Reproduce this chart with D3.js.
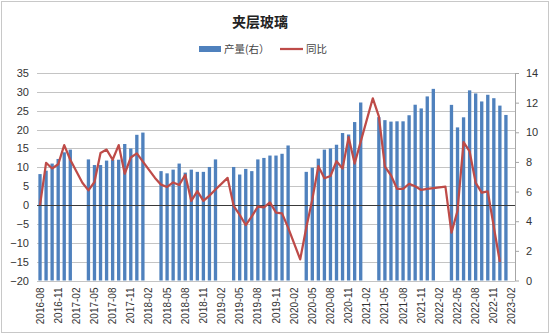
<!DOCTYPE html>
<html><head><meta charset="utf-8">
<script src="https://cdn.jsdelivr.net/npm/d3@7"></script>
<style>
html,body{margin:0;padding:0;background:#fff;}
svg{display:block;}
</style>
</head><body>
<svg id="chart" width="550" height="335"></svg>
<script>
const title = "夹层玻璃";
const seriesNames = ["产量(右）", "同比"];
const months = [
"2016-08","2016-09","2016-10","2016-11","2016-12",
"2017-01","2017-02","2017-03","2017-04","2017-05","2017-06","2017-07","2017-08","2017-09","2017-10","2017-11","2017-12",
"2018-01","2018-02","2018-03","2018-04","2018-05","2018-06","2018-07","2018-08","2018-09","2018-10","2018-11","2018-12",
"2019-01","2019-02","2019-03","2019-04","2019-05","2019-06","2019-07","2019-08","2019-09","2019-10","2019-11","2019-12",
"2020-01","2020-02","2020-03","2020-04","2020-05","2020-06","2020-07","2020-08","2020-09","2020-10","2020-11","2020-12",
"2021-01","2021-02","2021-03","2021-04","2021-05","2021-06","2021-07","2021-08","2021-09","2021-10","2021-11","2021-12",
"2022-01","2022-02","2022-03","2022-04","2022-05","2022-06","2022-07","2022-08","2022-09","2022-10","2022-11","2022-12",
"2023-01","2023-02"];
// 产量 (right axis)
const production = [
7.18,7.41,7.89,8.20,8.65,8.83,
null,null,
8.17,7.79,7.79,8.09,8.15,8.15,9.21,8.91,9.83,9.98,
null,null,
7.38,7.23,7.48,7.89,7.28,7.48,7.33,7.33,7.66,8.17,
null,null,
7.66,7.15,7.53,7.38,8.17,8.27,8.43,8.43,8.55,9.11,
null,null,
7.33,7.61,8.22,8.83,8.91,9.16,9.95,9.85,10.69,12.01,
null,null,
11.02,10.82,10.72,10.74,10.74,11.15,11.86,11.61,12.42,12.93,
null,null,
11.85,10.33,11.01,12.83,12.62,12.08,12.53,12.30,11.80,11.17,
null];
// 同比 (left axis, %)
const yoy = [
0,11.2,9.7,10.8,15.9,12.0,
null,5.9,
3.9,6.1,13.8,14.7,12.0,15.9,8.3,12.6,13.7,11.5,
null,7.2,
5.4,4.8,6.0,5.3,8.0,1.1,3.7,1.1,2.5,4.1,
null,7.2,
-0.2,-2.6,-5.3,-3.0,-0.4,-0.6,0.7,-2.0,-2.2,-6.0,
null,-14.4,
-6.0,1.5,10.3,7.1,7.7,11.6,9.7,18.0,11.0,16.8,
null,28.3,
23.5,10.2,7.9,4.3,4.3,5.6,5.0,4.0,4.3,4.5,
null,4.9,
-7.3,-1.5,16.7,14.2,5.9,3.3,3.6,-5.8,-15.1,
null,null];
const leftTicks = [-20,-15,-10,-5,0,5,10,15,20,25,30,35];
const rightTicks = [0,2,4,6,8,10,12,14];
const xTickLabels = months.filter((m,i)=>i%3===0);

const svg = d3.select("#chart");
const W = 550, H = 335;
const plot = {left:37, right:515, top:73, bottom:280.5};
const cjk = "'Noto Sans CJK SC','Noto Sans',sans-serif";
const latin = "'Liberation Sans',Arial,sans-serif";

// border
svg.append("rect").attr("x",1.5).attr("y",1.5).attr("width",W-3).attr("height",H-4)
  .attr("fill","#fff").attr("stroke","#c8c8c8").attr("stroke-width",1);

const x = d3.scaleBand().domain(months).range([plot.left, plot.right])
  .paddingInner(0.45).paddingOuter(0.225);
const yL = d3.scaleLinear().domain([-20,35]).range([plot.bottom, plot.top]);
const yR = d3.scaleLinear().domain([0,14]).range([plot.bottom, plot.top]);

// gridlines
svg.append("g").selectAll("line").data(leftTicks.filter(d=>d!==0)).join("line")
  .attr("x1",plot.left).attr("x2",plot.right)
  .attr("y1",d=>Math.round(yL(d))+0.5).attr("y2",d=>Math.round(yL(d))+0.5)
  .attr("stroke","#c4c4c4").attr("stroke-width",1);

// left axis labels
const gl = svg.append("g").attr("transform",`translate(${plot.left},0)`)
  .call(d3.axisLeft(yL).tickValues(leftTicks).tickSize(0).tickPadding(8));
gl.select(".domain").remove();
gl.selectAll("text").attr("font-family",latin).attr("font-size",11).attr("fill","#333");

// right axis
const gr = svg.append("g").attr("transform",`translate(${plot.right},0)`)
  .call(d3.axisRight(yR).tickValues(rightTicks).tickSize(4).tickPadding(7).tickSizeOuter(0));
gr.select(".domain").attr("stroke","#a6a6a6");
gr.selectAll(".tick line").attr("stroke","#a6a6a6");
gr.selectAll("text").attr("font-family",latin).attr("font-size",11).attr("fill","#333");

// bars
svg.append("g").selectAll("rect")
  .data(months.map((m,i)=>({m, v:production[i]})).filter(d=>d.v!=null))
  .join("rect")
  .attr("x",d=>x(d.m)).attr("width",x.bandwidth())
  .attr("y",d=>yR(d.v)).attr("height",d=>yR(0)-yR(d.v))
  .attr("fill","#4f81bd");

// zero line
svg.append("line").attr("x1",plot.left).attr("x2",plot.right)
  .attr("y1",Math.round(yL(0))+0.5).attr("y2",Math.round(yL(0))+0.5)
  .attr("stroke","#3a3a3a").attr("stroke-width",1);

// x axis labels
const gx = svg.append("g").attr("transform",`translate(0,${plot.bottom})`)
  .call(d3.axisBottom(x).tickValues(xTickLabels).tickSize(0).tickPadding(0));
gx.select(".domain").remove();
gx.selectAll("text")
  .attr("font-family",latin).attr("font-size",10).attr("fill","#333")
  .attr("transform","rotate(-90)").attr("text-anchor","end")
  .attr("x",-7).attr("y",0).attr("dy","0.35em");

// line
const lineData = months.map((m,i)=>({m, v:yoy[i]})).filter(d=>d.v!=null);
svg.append("path").datum(lineData)
  .attr("fill","none").attr("stroke","#be4b48").attr("stroke-width",2.25)
  .attr("stroke-linejoin","round")
  .attr("d", d3.line().x(d=>x(d.m)+x.bandwidth()/2).y(d=>yL(d.v)));

// title
svg.append("text").attr("x",260).attr("y",27).attr("text-anchor","middle")
  .attr("font-family",cjk).attr("font-weight","bold").attr("font-size",14).attr("fill","#222")
  .text(title);

// legend
const lg = svg.append("g");
lg.append("rect").attr("x",199).attr("y",46).attr("width",22).attr("height",6).attr("fill","#4f81bd");
lg.append("text").attr("x",224).attr("y",49).attr("dy","0.35em")
  .attr("font-family",cjk).attr("font-size",10.5).attr("fill","#444").text(seriesNames[0]);
lg.append("line").attr("x1",280).attr("x2",303).attr("y1",49).attr("y2",49)
  .attr("stroke","#be4b48").attr("stroke-width",2.25);
lg.append("text").attr("x",306).attr("y",49).attr("dy","0.35em")
  .attr("font-family",cjk).attr("font-size",10.5).attr("fill","#444").text(seriesNames[1]);
</script>
</body></html>
